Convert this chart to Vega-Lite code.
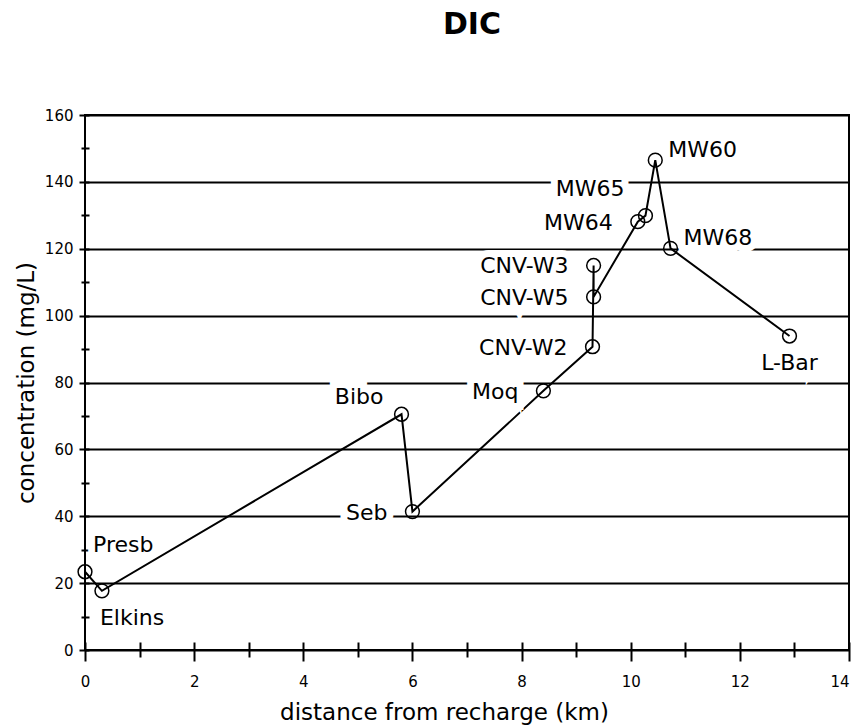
{
  "$schema": "https://vega.github.io/schema/vega-lite/v6.json",
  "width": 764,
  "height": 535,
  "autosize": {"type": "none"},
  "padding": {"left": 85, "top": 115, "right": 7, "bottom": 78},
  "background": "white",
  "config": {"view": {"stroke": "black", "strokeWidth": 2}, "font": "DejaVu Sans"},
  "title": {"text": "DIC", "font": "DejaVu Sans", "fontSize": 30, "fontWeight": "bold", "color": "black", "anchor": "middle", "dx": 5, "offset": 68},
  "data": {"values": [
    {"name": "Presb", "km": 0.0, "mgL": 23.4},
    {"name": "Elkins", "km": 0.31, "mgL": 17.7},
    {"name": "Bibo", "km": 5.8, "mgL": 70.5},
    {"name": "Seb", "km": 6.0, "mgL": 41.4},
    {"name": "Moq", "km": 8.4, "mgL": 77.5},
    {"name": "CNV-W2", "km": 9.3, "mgL": 90.7},
    {"name": "CNV-W3", "km": 9.32, "mgL": 115},
    {"name": "CNV-W5", "km": 9.32, "mgL": 105.6},
    {"name": "MW64", "km": 10.13, "mgL": 128.1},
    {"name": "MW65", "km": 10.27, "mgL": 129.9},
    {"name": "MW60", "km": 10.45, "mgL": 146.5},
    {"name": "MW68", "km": 10.73, "mgL": 120.1},
    {"name": "L-Bar", "km": 12.91, "mgL": 93.9}
  ]},
  "encoding": {
    "x": {
      "field": "km", "type": "quantitative",
      "scale": {"domain": [0, 14], "nice": false, "zero": false},
      "axis": {
        "title": "distance from recharge (km)",
        "values": [0, 1, 2, 3, 4, 5, 6, 7, 8, 9, 10, 11, 12, 13, 14],
        "domain": false, "grid": false, "offset": -8,
        "tickColor": "black", "tickWidth": 2,
        "tickSize": {"condition": {"test": "datum.value % 2 === 0", "value": 19}, "value": 15},
        "labelExpr": "datum.value % 2 === 0 ? datum.label : ''",
        "labelAlign": {"condition": {"test": "datum.value === 14", "value": "right"}, "value": "center"},
        "labelFont": "DejaVu Sans", "labelFontSize": 15, "labelColor": "black",
        "labelPadding": 13, "labelFlush": false, "labelOverlap": false,
        "titleFont": "DejaVu Sans", "titleFontSize": 23, "titleFontWeight": "normal", "titleColor": "black",
        "titleX": 359, "titleY": 77, "titleBaseline": "alphabetic", "titleAlign": "center"
      }
    },
    "y": {
      "field": "mgL", "type": "quantitative",
      "scale": {"domain": [0, 160], "nice": false, "zero": false},
      "axis": {
        "title": "concentration (mg/L)",
        "values": [0, 10, 20, 30, 40, 50, 60, 70, 80, 90, 100, 110, 120, 130, 140, 150, 160],
        "domain": false, "offset": -4,
        "grid": true, "gridColor": "black", "gridWidth": 2,
        "gridOpacity": {"condition": {"test": "datum.value % 20 === 0", "value": 1}, "value": 0},
        "tickColor": "black", "tickWidth": 2,
        "tickSize": {"condition": {"test": "datum.value % 20 === 0", "value": 10}, "value": 8},
        "labelExpr": "datum.value % 20 === 0 ? datum.label : ''",
        "labelFont": "DejaVu Sans", "labelFontSize": 15, "labelColor": "black",
        "labelPadding": 6, "labelOverlap": false,
        "titleFont": "DejaVu Sans", "titleFontSize": 23, "titleFontWeight": "normal", "titleColor": "black",
        "titleX": -56, "titleBaseline": "alphabetic"
      }
    }
  },
  "layer": [
    {"mark": {"type": "line", "color": "black", "strokeWidth": 2}, "encoding": {"order": {"value": null}}},

    {"transform": [{"filter": {"field": "name", "oneOf": ["Seb", "Moq", "CNV-W2", "CNV-W3", "CNV-W5", "MW64"]}}],
     "mark": {"type": "text", "align": "right", "baseline": "alphabetic", "dx": -25, "dy": 8, "fontSize": 22, "font": "DejaVu Sans", "fill": "white", "stroke": "white", "strokeWidth": 14},
     "encoding": {"text": {"field": "name"}}},
    {"transform": [{"filter": {"field": "name", "oneOf": ["Bibo"]}}],
     "mark": {"type": "text", "align": "right", "baseline": "alphabetic", "dx": -18, "dy": -10, "fontSize": 22, "font": "DejaVu Sans", "fill": "white", "stroke": "white", "strokeWidth": 14},
     "encoding": {"text": {"field": "name"}}},
    {"transform": [{"filter": {"field": "name", "oneOf": ["MW65"]}}],
     "mark": {"type": "text", "align": "right", "baseline": "alphabetic", "dx": -21, "dy": -20, "fontSize": 22, "font": "DejaVu Sans", "fill": "white", "stroke": "white", "strokeWidth": 14},
     "encoding": {"text": {"field": "name"}}},
    {"transform": [{"filter": {"field": "name", "oneOf": ["MW60", "MW68"]}}],
     "mark": {"type": "text", "align": "left", "baseline": "alphabetic", "dx": 13, "dy": -3, "fontSize": 22, "font": "DejaVu Sans", "fill": "white", "stroke": "white", "strokeWidth": 14},
     "encoding": {"text": {"field": "name"}}},
    {"transform": [{"filter": {"field": "name", "oneOf": ["L-Bar"]}}],
     "mark": {"type": "text", "align": "center", "baseline": "alphabetic", "dx": 0, "dy": 34, "fontSize": 22, "font": "DejaVu Sans", "fill": "white", "stroke": "white", "strokeWidth": 14},
     "encoding": {"text": {"field": "name"}}},
    {"transform": [{"filter": {"field": "name", "oneOf": ["Presb"]}}],
     "mark": {"type": "text", "align": "left", "baseline": "alphabetic", "dx": 8, "dy": -20, "fontSize": 22, "font": "DejaVu Sans", "fill": "white", "stroke": "white", "strokeWidth": 14},
     "encoding": {"text": {"field": "name"}}},
    {"transform": [{"filter": {"field": "name", "oneOf": ["Elkins"]}}],
     "mark": {"type": "text", "align": "left", "baseline": "alphabetic", "dx": -2, "dy": 34, "fontSize": 22, "font": "DejaVu Sans", "fill": "white", "stroke": "white", "strokeWidth": 14},
     "encoding": {"text": {"field": "name"}}},

    {"transform": [{"filter": {"field": "name", "oneOf": ["Seb", "Moq", "CNV-W2", "CNV-W3", "CNV-W5", "MW64"]}}],
     "mark": {"type": "text", "align": "right", "baseline": "alphabetic", "dx": -25, "dy": 8, "fontSize": 22, "font": "DejaVu Sans", "color": "black"},
     "encoding": {"text": {"field": "name"}}},
    {"transform": [{"filter": {"field": "name", "oneOf": ["Bibo"]}}],
     "mark": {"type": "text", "align": "right", "baseline": "alphabetic", "dx": -18, "dy": -10, "fontSize": 22, "font": "DejaVu Sans", "color": "black"},
     "encoding": {"text": {"field": "name"}}},
    {"transform": [{"filter": {"field": "name", "oneOf": ["MW65"]}}],
     "mark": {"type": "text", "align": "right", "baseline": "alphabetic", "dx": -21, "dy": -20, "fontSize": 22, "font": "DejaVu Sans", "color": "black"},
     "encoding": {"text": {"field": "name"}}},
    {"transform": [{"filter": {"field": "name", "oneOf": ["MW60", "MW68"]}}],
     "mark": {"type": "text", "align": "left", "baseline": "alphabetic", "dx": 13, "dy": -3, "fontSize": 22, "font": "DejaVu Sans", "color": "black"},
     "encoding": {"text": {"field": "name"}}},
    {"transform": [{"filter": {"field": "name", "oneOf": ["L-Bar"]}}],
     "mark": {"type": "text", "align": "center", "baseline": "alphabetic", "dx": 0, "dy": 34, "fontSize": 22, "font": "DejaVu Sans", "color": "black"},
     "encoding": {"text": {"field": "name"}}},
    {"transform": [{"filter": {"field": "name", "oneOf": ["Presb"]}}],
     "mark": {"type": "text", "align": "left", "baseline": "alphabetic", "dx": 8, "dy": -20, "fontSize": 22, "font": "DejaVu Sans", "color": "black"},
     "encoding": {"text": {"field": "name"}}},
    {"transform": [{"filter": {"field": "name", "oneOf": ["Elkins"]}}],
     "mark": {"type": "text", "align": "left", "baseline": "alphabetic", "dx": -2, "dy": 34, "fontSize": 22, "font": "DejaVu Sans", "color": "black"},
     "encoding": {"text": {"field": "name"}}},

    {"mark": {"type": "point", "shape": "circle", "filled": false, "size": 190, "stroke": "black", "strokeWidth": 1.5, "opacity": 1}}
  ]
}
